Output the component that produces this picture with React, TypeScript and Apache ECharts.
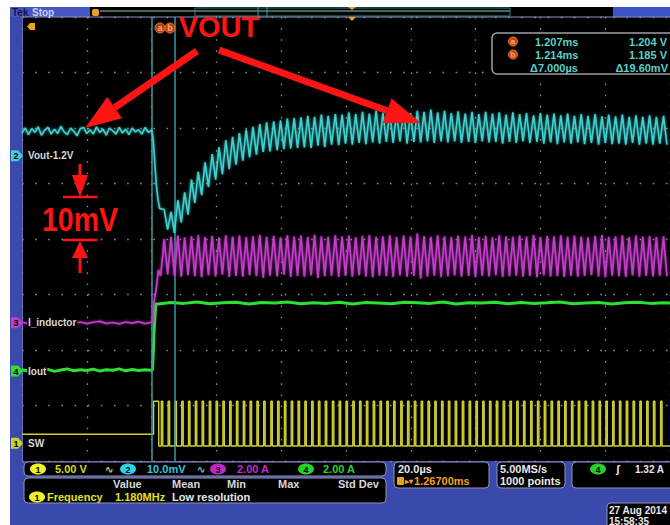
import React, { useEffect, useRef } from "react";
import * as echarts from "echarts";

// ---------- data (time in µs from left screen edge, 20 µs/div) ----------
const cursorTimesUs = [40.1, 47.1]; // cursor a = 1.207 ms, b = 1.214 ms
const cursorTimeText = ["1.207ms", "1.214ms"];
const cursorValueText = ["1.204 V", "1.185 V"];
const cursorDeltaText = ["\u03947.000\u00b5s", "\u039419.60mV"];

// Vout - 1.2 V (mV), pre-step samples every 1 µs
const voutPreStepUs = 1;
const voutPre = [
  4.1, 5.0, 3.8, 4.9, 4.2, 5.2, 3.7, 4.6, 5.1, 3.9, 4.8, 4.0, 5.3, 4.3, 3.8, 5.0, 4.4, 3.6, 4.9, 5.1,
  4.0, 4.7, 3.9, 5.2, 4.2, 4.8, 3.7, 5.0, 4.5, 3.9, 5.1, 4.1, 4.8, 3.8, 5.0, 4.3, 4.7, 3.9, 5.1, 4.2, 4.6,
];
const voutDropT = [40.5, 41.0, 41.5, 42.0, 42.5];
const voutDropV = [3.0, -1.5, -5.5, -8.0, -9.5];

// switching cycles after the load step (µs)
const cycleT = [
  43.0, 45.1, 47.2, 49.3, 51.4, 53.5, 55.6, 57.8, 59.9, 62.0,
  64.1, 66.2, 68.3, 70.4, 72.5, 74.6, 76.8, 78.9, 81.0, 83.1,
  85.2, 87.3, 89.4, 91.5, 93.6, 95.8, 97.9, 100.0, 102.1, 104.2,
  106.3, 108.4, 110.5, 112.6, 114.7, 116.9, 119.0, 121.1, 123.2, 125.3,
  127.4, 129.5, 131.6, 133.7, 135.9, 138.0, 140.1, 142.2, 144.3, 146.4,
  148.5, 150.6, 152.7, 154.8, 157.0, 159.1, 161.2, 163.3, 165.4, 167.5,
  169.6, 171.7, 173.8, 176.0, 178.1, 180.2, 182.3, 184.4, 186.5, 188.6,
  190.7, 192.8, 194.9, 197.1,
];
const voutHigh = [
  -9.7, -10.1, -8.0, -6.6, -4.3, -2.9, -1.2, 0.3, 1.5, 2.8,
  3.4, 4.1, 4.7, 5.2, 5.7, 6.0, 6.2, 6.4, 6.7, 6.8,
  6.9, 7.2, 7.0, 7.4, 7.2, 7.5, 7.4, 7.8, 7.5, 7.9,
  7.6, 8.1, 7.7, 8.0, 7.8, 8.2, 7.7, 8.1, 7.9, 8.3,
  7.8, 8.1, 7.7, 8.0, 7.6, 7.9, 7.5, 7.9, 7.6, 7.8,
  7.4, 7.8, 7.5, 7.7, 7.3, 7.7, 7.4, 7.6, 7.3, 7.6,
  7.2, 7.5, 7.2, 7.5, 7.1, 7.4, 7.1, 7.4, 7.0, 7.3,
  7.0, 7.3, 7.0, 7.2,
];
const voutLow = [
  -13.3, -13.9, -12.0, -10.6, -8.5, -7.1, -5.6, -4.3, -3.3, -2.4,
  -1.6, -0.9, -0.3, 0.2, 0.7, 0.8, 1.0, 1.2, 1.3, 1.4,
  1.5, 1.4, 1.8, 1.6, 2.0, 1.9, 2.2, 2.0, 2.3, 2.1,
  2.4, 2.2, 2.5, 2.3, 2.6, 2.2, 2.5, 2.4, 2.6, 2.3,
  2.6, 2.4, 2.6, 2.3, 2.5, 2.3, 2.6, 2.4, 2.5, 2.2,
  2.5, 2.3, 2.6, 2.3, 2.5, 2.2, 2.4, 2.1, 2.4, 2.2,
  2.4, 2.1, 2.3, 2.0, 2.3, 2.1, 2.2, 2.0, 2.3, 2.0,
  2.2, 2.0, 2.2, 2.0,
];

// inductor current (A)
const iLPreStepUs = 2;
const iLPre = [
  0.02, -0.03, 0.04, -0.01, 0.03, -0.04, 0.01, 0.04, -0.02, 0.03, -0.03,
  0.02, 0.05, -0.02, 0.01, -0.04, 0.03, -0.01, 0.04, -0.03, 0.02,
];
const iLStartT = [40.3, 40.8, 41.4, 42.1, 42.8];
const iLStartV = [0.0, 0.8, 1.2, 1.9, 1.7];
const iLPeak = [
  3.02, 3.10, 3.14, 3.08, 3.12, 3.16, 3.10, 3.13, 3.07, 3.15,
  3.11, 3.14, 3.09, 3.12, 3.16, 3.10, 3.13, 3.08, 3.15, 3.11,
  3.14, 3.09, 3.17, 3.12, 3.10, 3.15, 3.11, 3.14, 3.08, 3.13,
  3.16, 3.10, 3.12, 3.15, 3.09, 3.14, 3.11, 3.22, 3.13, 3.10,
  3.15, 3.12, 3.09, 3.14, 3.11, 3.16, 3.10, 3.13, 3.08, 3.15,
  3.12, 3.10, 3.14, 3.11, 3.16, 3.09, 3.13, 3.12, 3.15, 3.10,
  3.14, 3.11, 3.08, 3.13, 3.16, 3.10, 3.12, 3.15, 3.09, 3.14,
  3.11, 3.13, 3.10, 3.12,
];
const iLValley = [
  1.74, 1.70, 1.66, 1.72, 1.68, 1.64, 1.71, 1.67, 1.73, 1.65,
  1.69, 1.66, 1.72, 1.68, 1.63, 1.70, 1.67, 1.73, 1.65, 1.69,
  1.66, 1.71, 1.62, 1.68, 1.70, 1.65, 1.69, 1.66, 1.72, 1.67,
  1.64, 1.70, 1.68, 1.65, 1.71, 1.66, 1.69, 1.60, 1.67, 1.70,
  1.65, 1.68, 1.71, 1.66, 1.69, 1.64, 1.70, 1.67, 1.72, 1.65,
  1.68, 1.70, 1.66, 1.69, 1.64, 1.71, 1.67, 1.68, 1.65, 1.70,
  1.66, 1.69, 1.72, 1.67, 1.64, 1.70, 1.68, 1.65, 1.71, 1.66,
  1.69, 1.67, 1.70, 1.68,
];

// output current (A)
const ioutPreStepUs = 2;
const ioutPre = [
  0.05, 0.0, 0.07, 0.02, 0.06, -0.01, 0.04, 0.08, 0.01, 0.05, 0.02,
  0.07, 0.0, 0.05, 0.03, 0.08, 0.01, 0.06, 0.02, 0.05, 0.03,
];
const ioutStepT = [40.3, 40.8, 41.3];
const ioutStepV = [0.05, 1.5, 2.42];
const ioutPostStartUs = 42;
const ioutPostStepUs = 4;
const ioutPost = [
  2.42, 2.47, 2.44, 2.49, 2.43, 2.46, 2.48, 2.42, 2.47, 2.45,
  2.49, 2.43, 2.46, 2.44, 2.48, 2.42, 2.47, 2.45, 2.43, 2.48,
  2.46, 2.44, 2.49, 2.42, 2.46, 2.45, 2.48, 2.43, 2.47, 2.44,
  2.46, 2.49, 2.43, 2.45, 2.47, 2.42, 2.46, 2.48, 2.44, 2.46, 2.45,
];

// switch node (V): levels [before step, pulse high, pulse low]
const swLevels = [0.81, 3.78, -0.25];
const swBurst = [40.6, 42.2];
const swPulseUs = 0.45;

// channel settings
const chScaleText = ["5.00 V", "10.0mV", "2.00 A", "2.00 A"];
const chLabels = ["Vout-1.2V", "I_inductor", "Iout", "SW"];

// ---------- layout ----------
const PL = 22, PT = 17, PW = 657, PH = 444;
const DIVY = PH / 8;
const FONT = '"Liberation Sans", Arial, sans-serif';
const fnt = (s: number, w = "bold") => `${w} ${s}px ${FONT}`;

const C_CYAN = "#3fd0d0";
const C_MAG = "#c23cc8";
const C_GRN = "#2fe02f";
const C_YEL = "#cfcf2c";
const C_RED = "#ff1414";
const C_TEAL = "#5ccfc8";

function axisRange(perDiv: number, zeroDiv: number) {
  const center = -zeroDiv * perDiv;
  return { min: center - 4 * perDiv, max: center + 4 * perDiv };
}

function txt(x: number, y: number, text: string, fill: string, size = 11, align = "left", extra: any = {}) {
  return {
    type: "text",
    x,
    y,
    z: extra.z ?? 115,
    style: {
      text,
      fill,
      font: fnt(size, extra.weight ?? "bold"),
      textAlign: align,
      align,
      textVerticalAlign: "middle",
      verticalAlign: "middle",
      ...(extra.style || {}),
    },
  };
}

function arrow(x1: number, y1: number, x2: number, y2: number, sw: number, hl: number, hw: number) {
  const dx = x2 - x1, dy = y2 - y1;
  const len = Math.hypot(dx, dy);
  const ux = dx / len, uy = dy / len;
  const px = -uy, py = ux;
  const bx = x2 - ux * hl, by = y2 - uy * hl;
  return [
    {
      type: "polygon",
      z: 120,
      shape: {
        points: [
          [x1 + (px * sw) / 2, y1 + (py * sw) / 2],
          [bx + (px * sw) / 2, by + (py * sw) / 2],
          [bx - (px * sw) / 2, by - (py * sw) / 2],
          [x1 - (px * sw) / 2, y1 - (py * sw) / 2],
        ],
      },
      style: { fill: C_RED },
    },
    {
      type: "polygon",
      z: 120,
      shape: {
        points: [
          [x2, y2],
          [bx + (px * hw) / 2, by + (py * hw) / 2],
          [bx - (px * hw) / 2, by - (py * hw) / 2],
        ],
      },
      style: { fill: C_RED },
    },
  ];
}

function box(x: number, y: number, w: number, h: number) {
  return {
    type: "rect",
    z: 110,
    shape: { x, y, width: w, height: h, r: 4 },
    style: { fill: "#000", stroke: "#9296b4", lineWidth: 1 },
  };
}

function badge(cx: number, cy: number, color: string, num: string) {
  return [
    { type: "ellipse", z: 112, shape: { cx, cy, rx: 8, ry: 5.5 }, style: { fill: color } },
    txt(cx, cy + 0.5, num, "#000", 9, "center", { z: 113 }),
  ];
}

function chanTag(y: number, color: string, num: string) {
  return [
    {
      type: "polygon",
      z: 112,
      shape: { points: [[11, y - 5.5], [18, y - 5.5], [23, y], [18, y + 5.5], [11, y + 5.5]] },
      style: { fill: color },
    },
    txt(16, y + 0.5, num, "#000", 9, "center", { z: 113 }),
  ];
}

function buildOption() {
  const voutData: number[][] = voutPre.map((v, i) => [i * voutPreStepUs, v]);
  voutDropT.forEach((t, i) => voutData.push([t, voutDropV[i]]));
  cycleT.forEach((t, i) => {
    voutData.push([t + 0.9, voutHigh[i]]);
    voutData.push([t + 1.95, voutLow[i]]);
  });

  const iLData: number[][] = iLPre.map((v, i) => [i * iLPreStepUs, v]);
  iLStartT.forEach((t, i) => iLData.push([t, iLStartV[i]]));
  cycleT.forEach((t, i) => {
    iLData.push([t + 0.9, iLPeak[i]]);
    iLData.push([t + 1.95, iLValley[i]]);
  });

  const ioutData: number[][] = ioutPre.map((v, i) => [i * ioutPreStepUs, v]);
  ioutStepT.forEach((t, i) => ioutData.push([t, ioutStepV[i]]));
  ioutPost.forEach((v, i) => ioutData.push([ioutPostStartUs + i * ioutPostStepUs, v]));

  const swData: number[][] = [
    [0, swLevels[0]],
    [swBurst[0], swLevels[1]],
    [swBurst[1], swLevels[2]],
  ];
  cycleT.forEach((t) => {
    swData.push([t, swLevels[1]]);
    swData.push([t + swPulseUs, swLevels[2]]);
  });
  swData.push([200, swLevels[2]]);

  const yCyan = axisRange(10, 1.5);
  const yMag = axisRange(2, -1.51);
  const yGrn = axisRange(2, -2.38);
  const yYel = axisRange(5, -3.68);
  const tagY = (zeroDiv: number) => PT + PH / 2 - zeroDiv * DIVY;

  const graphic: any[] = [
    // frame backgrounds
    { type: "rect", z: -10, shape: { x: 10, y: 7, width: 660, height: 518 }, style: { fill: "#3a4aac" } },
    // top bar
    { type: "rect", z: -9, shape: { x: 10, y: 7, width: 80, height: 10 }, style: { fill: "#4656c0" } },
    { type: "rect", z: -9, shape: { x: 90, y: 7, width: 523, height: 10 }, style: { fill: "#000" } },
    { type: "rect", z: -9, shape: { x: 613, y: 7, width: 57, height: 10 }, style: { fill: "#3c52c8" } },
    txt(12, 12.5, "Tek", "#14144a", 10),
    txt(32, 12.5, "Stop", "#c8ccf4", 10),
    { type: "rect", z: 1, shape: { x: 195, y: 8, width: 315, height: 8 }, style: { fill: "none", stroke: "#2f7f78", lineWidth: 1 } },
    { type: "line", z: 1, shape: { x1: 100, y1: 11, x2: 510, y2: 11 }, style: { stroke: "#5a8a82", lineWidth: 1.5 } },
    { type: "line", z: 1, shape: { x1: 258, y1: 7, x2: 258, y2: 17 }, style: { stroke: "#3aa0a0", lineWidth: 1 } },
    { type: "line", z: 1, shape: { x1: 267, y1: 7, x2: 267, y2: 17 }, style: { stroke: "#3aa0a0", lineWidth: 1 } },
    { type: "rect", z: 2, shape: { x: 92, y: 9, width: 7, height: 7, r: 2 }, style: { fill: "#f0a020" } },
    { type: "polygon", z: 2, shape: { points: [[348, 7], [356, 7], [352, 10]] }, style: { fill: "#f0a020" } },
    { type: "polygon", z: 2, shape: { points: [[348, 17], [356, 17], [352, 21]] }, style: { fill: "#f0a020" } },
    // plot border
    { type: "line", z: 1, shape: { x1: PL, y1: PT, x2: 670, y2: PT }, style: { stroke: "#8a90c8", lineWidth: 1 } },
    { type: "line", z: 1, shape: { x1: PL + 0.5, y1: PT, x2: PL + 0.5, y2: PT + PH }, style: { stroke: "#6870b0", lineWidth: 1 } },
    { type: "polygon", z: 20, shape: { points: [[27, 26.5], [30, 23], [35, 23], [35, 30], [30, 30]] }, style: { fill: "#f0a020" } },
    // cursor a / b badges
    { type: "circle", z: 20, shape: { cx: 160, cy: 28, r: 5 }, style: { fill: "#b83c12", stroke: "#f07a28", lineWidth: 1 } },
    txt(160, 28, "a", "#ffb070", 9, "center", { z: 21 }),
    { type: "circle", z: 20, shape: { cx: 170, cy: 28, r: 5 }, style: { fill: "#b83c12", stroke: "#f07a28", lineWidth: 1 } },
    txt(170, 28, "b", "#ffb070", 9, "center", { z: 21 }),
    // cursor readout
    { type: "rect", z: 110, shape: { x: 492, y: 33, width: 190, height: 41, r: 5 }, style: { fill: "#000", stroke: "#a0a0a0", lineWidth: 1.5 } },
    { type: "circle", z: 112, shape: { cx: 513, cy: 41.5, r: 4.5 }, style: { fill: "#c04818", stroke: "#f07828" } },
    txt(513, 41.5, "a", "#ffb070", 8, "center"),
    { type: "circle", z: 112, shape: { cx: 513, cy: 54.5, r: 4.5 }, style: { fill: "#c04818", stroke: "#f07828" } },
    txt(513, 54.5, "b", "#ffb070", 8, "center"),
    txt(535, 42, cursorTimeText[0], C_TEAL, 11),
    txt(667, 42, cursorValueText[0], C_TEAL, 11, "right"),
    txt(535, 55, cursorTimeText[1], C_TEAL, 11),
    txt(667, 55, cursorValueText[1], C_TEAL, 11, "right"),
    txt(530, 68, cursorDeltaText[0], C_TEAL, 11),
    txt(668, 68, cursorDeltaText[1], C_TEAL, 11, "right"),
    // channel tags + labels
    ...chanTag(tagY(1.5), C_CYAN, "2"),
    txt(27, tagY(1.5), chLabels[0], "#d8d8d8", 10, "left", { style: { backgroundColor: "#000", padding: [1, 1] } }),
    ...chanTag(tagY(-1.51), C_MAG, "3"),
    txt(27, tagY(-1.51), chLabels[1], "#d8d8d8", 10, "left", { style: { backgroundColor: "#000", padding: [1, 1] } }),
    ...chanTag(tagY(-2.38), C_GRN, "4"),
    txt(27, tagY(-2.38), chLabels[2], "#d8d8d8", 10, "left", { style: { backgroundColor: "#000", padding: [1, 1] } }),
    ...chanTag(tagY(-3.68), C_YEL, "1"),
    txt(27, tagY(-3.68), chLabels[3], "#d8d8d8", 10, "left", { style: { backgroundColor: "#000", padding: [1, 1] } }),
    // red annotations
    txt(219, 27, "VOUT", C_RED, 29, "center", { z: 121 }),
    ...arrow(197, 51, 85, 128, 7, 36, 26),
    ...arrow(219, 50, 421, 123, 7, 36, 26),
    ...arrow(80, 164, 80, 197, 3, 22, 16),
    { type: "line", z: 120, shape: { x1: 63, y1: 197, x2: 97, y2: 197 }, style: { stroke: C_RED, lineWidth: 2.5 } },
    {
      type: "text",
      z: 121,
      x: 80,
      y: 220,
      scaleX: 0.84,
      style: { text: "10mV", fill: C_RED, font: fnt(34), textAlign: "center", align: "center", textVerticalAlign: "middle", verticalAlign: "middle" },
    },
    { type: "line", z: 120, shape: { x1: 63, y1: 240, x2: 97, y2: 240 }, style: { stroke: C_RED, lineWidth: 2.5 } },
    ...arrow(80, 273, 80, 241, 3, 17, 16),
    // status bar
    box(24, 462, 362, 14),
    ...badge(38, 469, "#f0f028", "1"),
    txt(55, 469, chScaleText[0], "#d8d81c", 11),
    txt(105, 469, "\u223f", "#c8c860", 10),
    ...badge(128, 469, "#28d4e8", "2"),
    txt(147, 469, chScaleText[1], "#28c8dc", 11),
    txt(197, 469, "\u223f", "#60b8c0", 10),
    ...badge(218, 469, "#c028c8", "3"),
    txt(237, 469, chScaleText[2], "#c030c8", 11),
    ...badge(306, 469, "#28d028", "4"),
    txt(323, 469, chScaleText[3], "#30d030", 11),
    box(24, 478, 362, 25),
    txt(113, 484, "Value", "#d8d8d8", 11),
    txt(172, 484, "Mean", "#d8d8d8", 11),
    txt(227, 484, "Min", "#d8d8d8", 11),
    txt(278, 484, "Max", "#d8d8d8", 11),
    txt(338, 484, "Std Dev", "#d8d8d8", 11),
    ...badge(37, 497, "#f0f028", "1"),
    txt(47, 497, "Frequency", "#e0e028", 11),
    txt(115, 497, "1.180MHz", "#e0e028", 11),
    txt(172, 497, "Low resolution", "#e8e8e8", 11),
    box(394, 462, 95, 26),
    txt(398, 469, "20.0\u00b5s", "#e8e8e8", 11),
    { type: "rect", z: 112, shape: { x: 397, y: 477, width: 7, height: 8, r: 1 }, style: { fill: "#f0a020" } },
    txt(405, 481, "\u25b8\u25be", "#f0a020", 8),
    txt(414, 481, "1.26700ms", "#f0a020", 11),
    box(497, 462, 68, 26),
    txt(500, 469, "5.00MS/s", "#e8e8e8", 11),
    txt(500, 481, "1000 points", "#e8e8e8", 11),
    box(572, 462, 110, 26),
    ...badge(598, 469, "#28d028", "4"),
    txt(616, 469, "\u0283", "#e8e8e8", 11),
    txt(635, 469, "1.32 A", "#e8e8e8", 10),
    box(607, 503, 75, 26),
    txt(609, 510, "27 Aug 2014", "#e8e8e8", 10),
    txt(609, 521, "15:58:35", "#e8e8e8", 10),
  ];

  const hidden = { show: false, axisLine: { show: false }, splitLine: { show: false } };
  const gridDot = "#8a8a8a";

  return {
    animation: false,
    backgroundColor: "#ffffff",
    grid: { left: PL, top: PT, width: PW, height: PH, show: true, backgroundColor: "#000", borderWidth: 0 },
    xAxis: {
      type: "value",
      min: 0,
      max: 200,
      interval: 20,
      axisLine: { show: false },
      axisTick: { show: false },
      axisLabel: { show: false },
      splitLine: { show: true, lineStyle: { color: gridDot, width: 1.3, type: [1.6, DIVY / 5 - 1.6] } },
    },
    yAxis: [
      {
        type: "value",
        min: -4,
        max: 4,
        interval: 1,
        axisLine: { show: false },
        axisTick: { show: false },
        axisLabel: { show: false },
        splitLine: { show: true, lineStyle: { color: gridDot, width: 1.3, type: [1.6, PW / 50 - 1.6] } },
      },
      { type: "value", ...yCyan, ...hidden },
      { type: "value", ...yMag, ...hidden },
      { type: "value", ...yGrn, ...hidden },
      { type: "value", ...yYel, ...hidden },
    ],
    series: [
      {
        type: "line",
        name: "SW",
        yAxisIndex: 4,
        data: swData,
        step: "end",
        showSymbol: false,
        lineStyle: { color: C_YEL, width: 1.4 },
        z: 3,
      },
      {
        type: "line",
        name: "Iout",
        yAxisIndex: 3,
        data: ioutData,
        showSymbol: false,
        lineStyle: { color: C_GRN, width: 3 },
        z: 4,
      },
      {
        type: "line",
        name: "I_inductor",
        yAxisIndex: 2,
        data: iLData,
        showSymbol: false,
        lineStyle: { color: C_MAG, width: 1.7, shadowBlur: 3, shadowColor: "rgba(200,60,210,0.8)" },
        z: 5,
      },
      {
        type: "line",
        name: "Vout",
        yAxisIndex: 1,
        data: voutData,
        showSymbol: false,
        lineStyle: { color: C_CYAN, width: 1.6, shadowBlur: 3, shadowColor: "rgba(60,210,210,0.8)" },
        z: 6,
        markLine: {
          silent: true,
          symbol: ["none", "none"],
          label: { show: false },
          lineStyle: { color: "#3a98a0", width: 1.5, type: "solid" },
          data: cursorTimesUs.map((t) => ({ xAxis: t })),
        },
      },
    ],
    graphic,
  };
}

export default function App() {
  const ref = useRef<HTMLDivElement>(null);
  useEffect(() => {
    const chart = echarts.init(ref.current as HTMLDivElement, null, { renderer: "svg" });
    chart.setOption(buildOption() as any);
    return () => chart.dispose();
  }, []);
  return (
    <div
      ref={ref}
      style={{ position: "absolute", left: 0, top: 0, width: 670, height: 525 }}
    />
  );
}
